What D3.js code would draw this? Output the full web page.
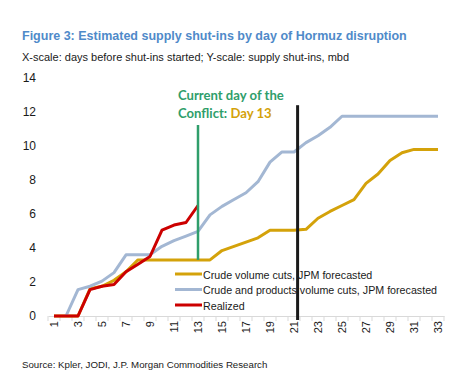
<!DOCTYPE html>
<html><head><meta charset="utf-8">
<script src="https://cdn.jsdelivr.net/npm/d3@7"></script>
<style>body{margin:0;background:#fff}svg{display:block}</style>
</head><body><svg id="c" width="453" height="381"></svg>
<script>
const days = d3.range(1, 34);
const yTicks = [0, 2, 4, 6, 8, 10, 12, 14];
const crudeDays = d3.range(1, 34);
const crude = [0,0,0,1.6,1.75,2.1,2.6,3.3,3.3,3.3,3.3,3.3,3.3,3.3,3.85,4.1,4.35,4.6,5.05,5.05,5.05,5.1,5.75,6.15,6.5,6.85,7.8,8.35,9.15,9.6,9.8,9.8,9.8];
const productsDays = d3.range(2, 34);
const products = [0,1.55,1.75,2.05,2.55,3.6,3.6,3.6,4.1,4.43,4.7,4.98,5.95,6.45,6.85,7.25,7.9,9.05,9.65,9.65,10.2,10.6,11.1,11.75,11.75,11.75,11.75,11.75,11.75,11.75,11.75,11.75];
const realizedDays = d3.range(1, 14);
const realized = [0,0,0,1.55,1.75,1.85,2.6,3.05,3.5,5.05,5.35,5.5,6.5];
const legendLabels = ["Crude volume cuts, JPM forecasted","Crude and products volume cuts, JPM forecasted","Realized"];
const colors = ["#D4A20A","#A3B7D3","#CC0000"];
const currentDay = 13, currentValue = 3.3;
const markerDay = 21.3, markerTop = 12.4;

const svg = d3.select("#c");
const x = d3.scaleBand().domain(days).range([48, 444]);
const xc = d => x(d) + x.bandwidth() / 2;
const xl = d3.scaleLinear().domain([1, 33]).range([xc(1), xc(33)]);
const y = d3.scaleLinear().domain([0, 14]).range([316, 78]);

// titles
svg.append("text").attr("x", 22).attr("y", 40).attr("fill", "#4F8AC9")
  .attr("font-family", "Liberation Sans, Arial").attr("font-weight", "bold").attr("font-size", 12.5)
  .text("Figure 3: Estimated supply shut-ins by day of Hormuz disruption");
svg.append("text").attr("x", 22).attr("y", 61).attr("fill", "#1a1a1a")
  .attr("font-family", "Liberation Sans, Arial").attr("font-size", 11)
  .text("X-scale: days before shut-ins started; Y-scale: supply shut-ins, mbd");
svg.append("text").attr("x", 22).attr("y", 368).attr("fill", "#1a1a1a")
  .attr("font-family", "Liberation Sans, Arial").attr("font-size", 9.7)
  .text("Source: Kpler, JODI, J.P. Morgan Commodities Research");

// y axis labels
svg.append("g").selectAll("text").data(yTicks).join("text")
  .attr("x", 36).attr("y", d => y(d) + 4).attr("text-anchor", "end")
  .attr("font-family", "Liberation Sans, Arial").attr("font-size", 12).attr("fill", "#1a1a1a")
  .text(d => d);

// x axis
const xAxis = d3.axisBottom(x).tickSizeOuter(0).tickSize(0).tickFormat(d => d % 2 === 1 ? d : "");
const gx = svg.append("g").attr("transform", "translate(0,316)").call(xAxis);
gx.select(".domain").attr("stroke", "#D9D9D9");
gx.selectAll(".tick text").attr("transform", "rotate(-90)").attr("text-anchor", "end")
  .attr("x", -5).attr("y", 0).attr("dy", "0.35em")
  .attr("font-family", "Liberation Sans, Arial").attr("font-size", 11).attr("fill", "#1a1a1a");
gx.append("g").selectAll("line").data(d3.range(0, 34)).join("line")
  .attr("x1", i => 48 + i * x.step()).attr("x2", i => 48 + i * x.step())
  .attr("y1", 0).attr("y2", 5).attr("stroke", "#D9D9D9");

const line = d3.line().x(d => xc(d[0])).y(d => y(d[1]));
const series = [
  [crudeDays, crude], [productsDays, products], [realizedDays, realized]
];
svg.append("g").selectAll("path").data(series).join("path")
  .attr("d", s => line(s[0].map((d, i) => [d, s[1][i]])))
  .attr("fill", "none").attr("stroke", (s, i) => colors[i]).attr("stroke-width", 3)
  .attr("stroke-linejoin", "round");

// vertical markers
svg.append("line").attr("x1", xl(currentDay)).attr("x2", xl(currentDay))
  .attr("y1", 125).attr("y2", y(currentValue)).attr("stroke", "#2F9E6B").attr("stroke-width", 2.5);
svg.append("line").attr("x1", xl(markerDay)).attr("x2", xl(markerDay))
  .attr("y1", y(markerTop)).attr("y2", 320).attr("stroke", "#1a1a1a").attr("stroke-width", 3);

// annotation
const ann = svg.append("text").attr("font-family", "Lato, Carlito, Calibri, sans-serif").attr("font-weight", "bold").attr("font-size", 13.1);
ann.append("tspan").attr("x", 178).attr("y", 100).attr("fill", "#2F9E6B").text("Current day of the");
ann.append("tspan").attr("x", 178).attr("y", 118).attr("fill", "#2F9E6B").text("Conflict: ");
ann.append("tspan").attr("fill", "#D4A20A").text("Day 13");

// legend
const lg = svg.append("g").selectAll("g").data(legendLabels).join("g")
  .attr("transform", (d, i) => `translate(175,${274 + i * 15.5})`);
lg.append("line").attr("x1", 0).attr("x2", 27).attr("stroke", (d, i) => colors[i]).attr("stroke-width", 3);
lg.append("text").attr("x", 28).attr("y", 4.5).attr("font-family", "Liberation Sans, Arial")
  .attr("font-size", 10.7).attr("fill", "#1a1a1a").text(d => d);
</script></body></html>
